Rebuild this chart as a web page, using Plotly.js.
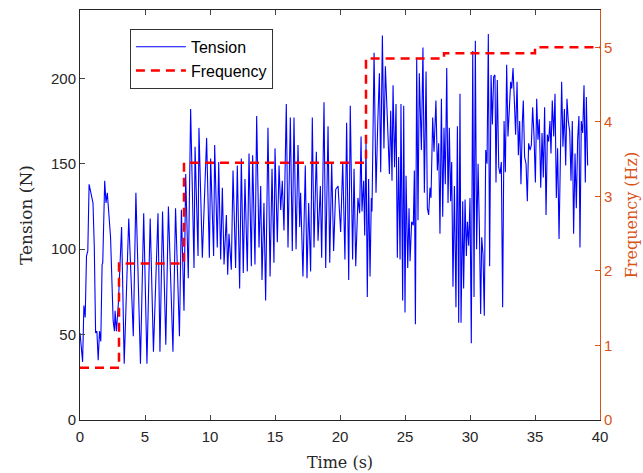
<!DOCTYPE html>
<html>
<head>
<meta charset="utf-8">
<script src="https://cdn.plot.ly/plotly-3.0.1.min.js"></script>
<style>html,body{margin:0;padding:0;background:#fff;}#chart{width:643px;height:473px;}</style>
</head>
<body>
<div id="chart"></div>
<script>
var tensionTime = [
0, 0.2, 0.3, 0.4, 0.5, 0.6, 0.7, 1.0, 1.1, 1.2, 1.3, 1.4, 1.5, 1.6, 1.7, 1.75, 1.9, 2.0, 2.1, 2.35, 2.55, 2.65, 2.7, 2.8, 2.95,
3.1, 3.2, 3.4, 3.6, 3.75, 4.1, 4.3, 4.65, 4.75, 4.9, 5.15, 5.4, 5.65, 6.0, 6.15, 6.35, 6.6, 6.8, 7.15, 7.35, 7.65, 7.8,
8.0, 8.13, 8.33, 8.51, 8.77, 8.85, 9.08, 9.15, 9.41, 9.74, 9.95, 10.05, 10.28, 10.36, 10.56, 10.67, 10.82, 10.95, 11.08, 11.26,
11.36, 11.46, 11.64, 11.77, 11.97, 12.1, 12.28, 12.41, 12.56, 12.69, 12.87, 13.0, 13.18, 13.28, 13.46, 13.59, 13.77, 13.9,
14.0, 14.15, 14.28, 14.46, 14.62, 14.77, 14.92, 15.0, 15.18, 15.31, 15.44, 15.56, 15.69, 15.87,
16.0, 16.18, 16.33, 16.46, 16.62, 16.77, 16.9, 16.97, 17.15, 17.33, 17.46, 17.59, 17.74, 17.87, 18.0, 18.18, 18.31, 18.49,
18.59, 18.77, 18.9, 19.08, 19.21, 19.36, 19.51, 19.67, 19.85, 20.05, 20.21, 20.38, 20.51, 20.67, 20.79, 20.97, 21.08, 21.21,
21.38, 21.51, 21.62, 21.69, 21.82, 21.9, 22.0, 22.1, 22.2, 22.31, 22.41, 22.46,
22.62, 22.77, 22.9, 23.03, 23.13, 23.26, 23.38, 23.49, 23.64, 23.8, 23.9, 24.0, 24.08, 24.2, 24.31, 24.41, 24.51, 24.62,
24.69, 24.82, 24.9, 25.0, 25.08, 25.21, 25.31, 25.39, 25.51, 25.64, 25.72, 25.8, 25.9, 26.0, 26.1, 26.26, 26.38, 26.49,
26.62, 26.72, 26.82, 26.92, 27.0, 27.13, 27.23, 27.38, 27.49, 27.59, 27.69, 27.8, 27.9, 28.0, 28.1, 28.21, 28.31, 28.41,
28.51, 28.59, 28.69, 28.8, 28.92, 29.03, 29.13, 29.23, 29.31, 29.44, 29.51, 29.62, 29.72, 29.8, 29.9, 30.0, 30.1, 30.21,
30.31, 30.41, 30.51, 30.62, 30.72, 30.82, 30.9, 31.0, 31.1, 31.21, 31.31, 31.41, 31.51, 31.62, 31.72, 31.82, 31.92, 32.0,
32.1, 32.21, 32.31, 32.41, 32.51, 32.62, 32.72, 32.82, 32.92, 33.03, 33.13, 33.21, 33.31, 33.41, 33.51, 33.62, 33.72, 33.82,
33.92, 34.03, 34.1, 34.2, 34.31, 34.41, 34.51, 34.62, 34.72, 34.82, 34.92, 35.03, 35.13, 35.23, 35.33, 35.44, 35.54, 35.64,
35.74, 35.85, 35.95, 36.05, 36.15, 36.23, 36.33, 36.44, 36.54, 36.64, 36.74, 36.85, 36.95, 37.05, 37.15, 37.26, 37.36, 37.46,
37.56, 37.67, 37.77, 37.87, 37.97, 38.08, 38.18, 38.28, 38.38, 38.46, 38.56, 38.67, 38.77, 38.87, 38.95, 39.05
];
var tensionValue = [
51, 34, 67, 60, 96, 99, 138, 127, 101, 51, 52, 35, 52, 46, 91, 92, 140, 127, 133, 107, 58, 52, 64, 52, 68,
101, 113, 33, 88, 118, 49, 133, 33, 74, 121, 33, 118, 40, 121, 40, 122, 44, 125, 40, 124, 49, 123,
64, 144, 83, 182, 89, 160, 96, 171, 95, 165, 95, 153, 96, 161, 101, 151, 94, 136, 91, 120,
85, 109, 88, 146, 89, 149, 77, 153, 86, 141, 87, 156, 90, 155, 91, 178, 101, 137,
82, 127, 70, 171, 84, 147, 92, 159, 104, 149, 123, 140, 111, 185,
101, 177, 99, 177, 100, 161, 113, 133, 84, 149, 83, 127, 87, 177, 101, 157, 105, 137,
95, 186, 89, 172, 92, 151, 99, 135, 137, 110, 151, 94, 174, 82, 184, 94, 147, 90,
130, 121, 166, 122, 140, 108, 162, 72, 141, 84, 130, 122,
215, 133, 173, 203, 145, 225, 159, 207, 177, 144, 181, 140, 196, 148, 185, 95, 154, 94,
185, 70, 184, 63, 143, 89, 124, 93, 116, 114, 146, 56, 212, 117, 203, 158, 218, 133,
204, 124, 120, 136, 130, 177, 157, 187, 146, 162, 109, 188, 119, 171, 138, 206, 127, 171,
128, 151, 78, 137, 66, 172, 57, 191, 57, 128, 77, 129, 96, 116, 102, 130, 45, 216,
72, 222, 100, 150, 113, 62, 107, 97, 61, 158, 150, 226, 90, 202, 173, 201, 202, 139,
199, 148, 144, 151, 66, 175, 145, 208, 166, 185, 198, 194, 206, 187, 167, 198, 155, 175,
138, 175, 187, 154, 150, 128, 162, 158, 161, 183, 167, 139, 188, 164, 176, 136, 168, 142,
183, 120, 167, 163, 175, 156, 187, 166, 191, 130, 159, 106, 145, 198, 160, 182, 149, 188,
175, 169, 140, 175, 109, 156, 124, 164, 178, 101, 175, 168, 196, 139, 189, 149
];
var freqTime = [0, 3, 8, 22, 28, 35, 40];
var freqValue = [0.7, 2.1, 3.45, 4.85, 4.92, 5.0, 5.0];

var axisColor = '#262626';
var orange = '#D95319';
var sans = 'Liberation Sans, Arial, sans-serif';
var serif = 'DejaVu Serif, serif';

var traces = [
  {x: tensionTime, y: tensionValue, type: 'scatter', mode: 'lines', name: 'Tension',
   line: {color: '#0000FF', width: 1.1}, yaxis: 'y'},
  {x: freqTime, y: freqValue, type: 'scatter', mode: 'lines', name: 'Frequency',
   line: {color: '#FF0000', width: 2.5, dash: '9px,6px', shape: 'hv'}, yaxis: 'y2'}
];

var layout = {
  width: 643, height: 473,
  margin: {l: 80, r: 43, t: 10, b: 53},
  paper_bgcolor: '#ffffff', plot_bgcolor: '#ffffff',
  showlegend: true,
  legend: {x: 0.096, y: 0.954, xanchor: 'left', yanchor: 'top',
    bgcolor: '#ffffff', bordercolor: '#333333', borderwidth: 1,
    font: {family: sans, size: 16, color: '#000'},
    tracegroupgap: 0, itemwidth: 50},
  xaxis: {range: [0, 40], tickvals: [0,5,10,15,20,25,30,35,40], ticks: 'inside', ticklen: 5,
    showline: true, linecolor: axisColor, linewidth: 1, mirror: 'ticks', showgrid: false, zeroline: false,
    ticklabelstandoff: 3,
    tickfont: {family: sans, size: 15, color: axisColor},
    title: {text: 'Time (s)', font: {family: serif, size: 16, color: axisColor}, standoff: 12}},
  yaxis: {range: [0, 240], tickvals: [0,50,100,150,200], ticks: 'inside', ticklen: 5,
    showline: true, linecolor: axisColor, linewidth: 1, showgrid: false, zeroline: false,
    tickfont: {family: sans, size: 15, color: axisColor},
    title: {text: 'Tension (N)', font: {family: serif, size: 17, color: axisColor}, standoff: 14}},
  yaxis2: {range: [0, 5.5], tickvals: [0,1,2,3,4,5], overlaying: 'y', side: 'right', ticks: 'inside', ticklen: 5,
    showline: true, linecolor: orange, linewidth: 1, showgrid: false, zeroline: false, tickcolor: orange,
    tickfont: {family: sans, size: 15, color: orange},
    title: {text: 'Frequency (Hz)', font: {family: serif, size: 16, color: orange}, standoff: 14}}
};

Plotly.newPlot('chart', traces, layout, {displayModeBar: false, staticPlot: true});
</script>
</body>
</html>
